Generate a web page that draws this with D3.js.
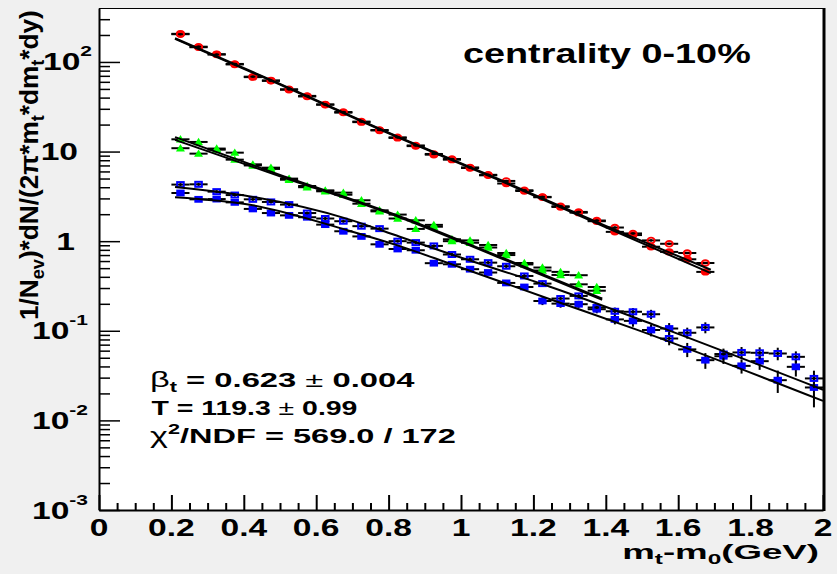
<!DOCTYPE html>
<html><head><meta charset="utf-8">
<script src="https://cdn.jsdelivr.net/npm/d3@7"></script>
<style>body{margin:0;background:#f0f0f0}svg{display:block}</style>
</head><body>
<svg id="c" width="837" height="574"></svg>
<script>
// ---------------- DATA ----------------
const redX = [0.225,0.275,0.325,0.375,0.425,0.475,0.525,0.575,0.625,0.675,0.725,0.775,0.825,0.875,0.925,0.975,1.025,1.075,1.125,1.175,1.225,1.275,1.325,1.375,1.425,1.475,1.525,1.575,1.625,1.675];
const redFilled = [206,146,122,93.8,67.7,62.2,49,41.2,33.3,27.2,21.3,17.2,14.2,11.5,9.23,8.12,6.55,5.43,4.4,3.63,3.09,2.41,2.08,1.67,1.27,1.17,0.867,0.759,0.628,0.454];
const redOpen   = [204,148,121,95,68.5,61.5,49.5,41.8,33.6,27.6,21.6,17.4,14.4,11.7,9.4,8.25,6.65,5.5,4.7,3.7,3.12,2.45,2.12,1.7,1.42,1.22,1.02,0.935,0.738,0.571];

const greenX = [0.225,0.275,0.325,0.375,0.425,0.475,0.525,0.575,0.625,0.675,0.725,0.775,0.825,0.875,0.925,0.975,1.025,1.075,1.125,1.175,1.225,1.275,1.325,1.375];
const greenA = [13.7,12.8,10.8,9.72,7.2,6.61,4.99,4.13,3.69,3.48,2.86,2.21,1.98,1.71,1.52,1.05,1.02,0.907,0.738,0.571,0.508,0.454,0.417,0.308];
const greenB = [10.9,9.48,10.5,8.12,7.0,6.4,4.85,4.0,3.6,3.3,2.62,2.15,1.79,1.37,1.45,1.0,0.96,0.85,0.70,0.55,0.47,0.42,0.33,0.28];

const blueX = [0.225,0.275,0.325,0.375,0.425,0.475,0.525,0.575,0.625,0.675,0.725,0.775,0.825,0.875,0.925,0.975,1.025,1.075,1.125,1.175,1.225,1.275,1.325,1.375,1.425,1.475,1.525,1.575,1.625,1.675,1.725,1.775,1.825,1.875,1.925,1.975];
const blueOpen = [4.28,4.31,3.57,3.27,2.93,2.74,2.56,2.06,1.79,1.67,1.47,1.38,1.00,0.964,0.885,0.71,0.628,0.576,0.525,0.409,0.336,0.229,0.245,0.182,0.165,0.163,0.153,0.082,0.095,0.109,0.055,0.0573,0.0568,0.0558,0.0512,0.0294];
const blueFilled = [3.45,2.93,2.95,2.71,2.29,2.06,1.94,1.85,1.53,1.29,1.13,0.922,0.818,0.792,0.568,0.552,0.487,0.447,0.342,0.308,0.215,0.201,0.198,0.174,0.134,0.129,0.102,0.106,0.062,0.047,0.052,0.0406,0.0458,0.0281,0.0396,0.0233];
const blueOpenErr = [0.04,0.04,0.04,0.04,0.04,0.04,0.04,0.04,0.04,0.04,0.04,0.04,0.04,0.04,0.04,0.04,0.05,0.05,0.06,0.06,0.08,0.08,0.08,0.09,0.10,0.10,0.12,0.16,0.14,0.14,0.15,0.15,0.15,0.16,0.15,0.22];
const blueFilledErr = [0.04,0.04,0.04,0.04,0.04,0.04,0.04,0.04,0.04,0.04,0.04,0.04,0.04,0.04,0.04,0.04,0.06,0.06,0.07,0.07,0.10,0.10,0.09,0.10,0.12,0.14,0.15,0.15,0.18,0.20,0.18,0.18,0.20,0.28,0.22,0.40];
const redGreenErr = 0.03;
const binHalfWidth = 0.025;

// blast-wave fit curves
const redFitX = [0.21,0.5,0.8,1.1,1.4,1.69];
const redFit1 = [181,56,16,4.9,1.43,0.44];
const redFit2 = [184,57,16.3,5.0,1.48,0.48];
const greenFitX = [0.21,0.5,0.83,1.1,1.39];
const greenFit1 = [14.5,5.5,1.9,0.69,0.229];
const greenFit2 = [13.5,5.3,1.85,0.67,0.222];
const blueFit1X = [0.21,0.417,0.693,0.831,0.97,1.246,1.55,2.0];
const blueFit1 = [4.02,3.16,1.74,1.12,0.72,0.31,0.11,0.022];
const blueFit2X = [0.21,0.417,0.693,0.831,0.97,1.246,1.485,2.0];
const blueFit2 = [3.1,2.55,1.3,0.88,0.56,0.225,0.103,0.0165];

const xTicks = [0,0.2,0.4,0.6,0.8,1,1.2,1.4,1.6,1.8,2];
const xTickLabels = ["0","0.2","0.4","0.6","0.8","1","1.2","1.4","1.6","1.8","2"];
const yTicks = [1e-3,1e-2,1e-1,1,10,100];
const yTickBase = ["10","10","10","1","10","10"];
const yTickExp  = ["-3","-2","-1","","","2"];

// ---------------- LAYOUT ----------------
const W=837,H=574,L=99,R=823,T=8,B=510;
const FONT = "'Liberation Sans', Arial, Helvetica, sans-serif";
const svg = d3.select("#c");
svg.append("rect").attr("width",W).attr("height",H).attr("fill","#f0f0f0");
svg.append("rect").attr("x",L).attr("y",T).attr("width",R-L).attr("height",B-T).attr("fill","#fff");

const x = d3.scaleLinear().domain([0,2]).range([L,R]);
const y = d3.scaleLog().domain([1e-3,400]).range([B,T]);

// ---- axes (ticks inward, ROOT style)
const xMinor = d3.range(1,40).map(i=>+(i*0.05).toFixed(2)).filter(v=>Math.abs(v*5-Math.round(v*5))>1e-6);
const yMinor = [];
for (let d=-3; d<=2; d++) for (let m=2;m<=9;m++){ const v=m*Math.pow(10,d); if (v<400) yMinor.push(v); }

const gx1 = svg.append("g").attr("transform",`translate(0,${B})`)
  .call(d3.axisBottom(x).tickValues(xMinor).tickSize(-7).tickSizeOuter(0).tickFormat(""));
gx1.select(".domain").remove();
const gx2 = svg.append("g").attr("transform",`translate(0,${B})`)
  .call(d3.axisBottom(x).tickValues(xTicks).tickSize(-15).tickSizeOuter(0).tickFormat(""));
[gx1,gx2].forEach(g=>g.selectAll("line,path").attr("stroke","#000").attr("stroke-width",2));

const gy1 = svg.append("g").attr("transform",`translate(${L},0)`)
  .call(d3.axisLeft(y).tickValues(yMinor).tickSize(-11).tickSizeOuter(0).tickFormat(""));
gy1.select(".domain").remove();
const gy2 = svg.append("g").attr("transform",`translate(${L},0)`)
  .call(d3.axisLeft(y).tickValues(yTicks).tickSize(-21).tickSizeOuter(0).tickFormat(""));
[gy1,gy2].forEach(g=>g.selectAll("line").attr("stroke","#000").attr("stroke-width",1.5));
gy2.select(".domain").attr("stroke","#000").attr("stroke-width",2);

// frame top / right
svg.append("line").attr("x1",L).attr("x2",R).attr("y1",T+0.5).attr("y2",T+0.5).attr("stroke","#000").attr("stroke-width",1.2);
svg.append("line").attr("x1",R+1).attr("x2",R+1).attr("y1",T).attr("y2",B+1).attr("stroke","#000").attr("stroke-width",3);

// ---- text helper: horizontally widened text (ROOT look)
function wideText(px, py, sx, anchor, build, target){
  const g = svg.append("g");
  const t = g.append("text").attr("font-family",FONT).attr("text-anchor",anchor).attr("fill","#000");
  build(t);
  let s = sx;
  if (target){ const w = t.node().getBBox().width; s = target/w; }
  g.attr("transform",`translate(${px},${py}) scale(${s},1)`);
  return g;
}
const TICKSX = 1.4;
xTicks.forEach((v,i)=>{
  wideText(x(v), 535.5, TICKSX, "middle", t=>t.attr("font-size",24).attr("font-weight","bold").text(xTickLabels[i]));
});
yTicks.forEach((v,i)=>{
  const endX = v<1 ? 88 : (v===1 ? 75 : (v===10 ? 78 : 92));
  wideText(endX, y(v)+8.5, TICKSX, "end", t=>{
    t.attr("font-size",24).attr("font-weight","bold");
    t.append("tspan").text(yTickBase[i]);
    if (yTickExp[i]) t.append("tspan").attr("font-size",15).attr("dy",-14).text(yTickExp[i]);
  });
});

// x title
wideText(819, 559, 1, "end", t=>{
  t.attr("font-size",21).attr("font-weight","bold");
  t.append("tspan").text("m");
  t.append("tspan").attr("font-size",14).attr("dy",5).text("t");
  t.append("tspan").attr("dy",-5).text("-m");
  t.append("tspan").attr("font-size",14).attr("dy",5).text("0");
  t.append("tspan").attr("dy",-5).text("(GeV)");
}, 197);

// y title (rotated)
{
  const g = svg.append("g");
  const t = g.append("text").attr("font-family",FONT).attr("font-size",26).attr("font-weight","bold").attr("text-anchor","start");
  t.append("tspan").text("1/N");
  t.append("tspan").attr("font-size",18).attr("dy",6).text("ev");
  t.append("tspan").attr("dy",-6).text(")*dN/(2\u03c0*m");
  t.append("tspan").attr("font-size",18).attr("dy",6).text("t");
  t.append("tspan").attr("dy",-6).text("*dm");
  t.append("tspan").attr("font-size",18).attr("dy",6).text("t");
  t.append("tspan").attr("dy",-6).text("*dy)");
  const w = t.node().getBBox().width;
  g.attr("transform",`translate(37.5,320) rotate(-90) scale(${310/w},1)`);
}

// annotation texts
wideText(463, 62.5, 1, "start", t=>t.attr("font-size",28).attr("font-weight","bold").text("centrality 0-10%"), 288);
wideText(150, 387, 1, "start", t=>{
  t.attr("font-size",21).attr("font-weight","bold");
  t.append("tspan").attr("font-weight","normal").attr("font-size",22).text("\u03b2");
  t.append("tspan").attr("font-size",14).attr("dy",5).text("t");
  t.append("tspan").attr("dy",-5).text(" = 0.623 ");
  t.append("tspan").attr("font-weight","normal").text("\u00b1");
  t.append("tspan").text(" 0.004");
}, 265);
wideText(151.5, 415, 1, "start", t=>{
  t.attr("font-size",21).attr("font-weight","bold");
  t.append("tspan").text("T = 119.3 ");
  t.append("tspan").attr("font-weight","normal").text("\u00b1");
  t.append("tspan").text(" 0.99");
}, 206);
wideText(150, 443, 1, "start", t=>{
  t.attr("font-size",21).attr("font-weight","bold");
  t.append("tspan").attr("font-weight","normal").attr("font-size",22).text("\u03c7");
  t.append("tspan").attr("font-size",14).attr("dy",-9).text("2");
  t.append("tspan").attr("dy",9).text("/NDF = 569.0 / 172");
}, 306);

// ---- data series
const plot = svg.append("g");
function drawSeries(xs, vs, errs, marker){
  const g = plot.append("g");
  xs.forEach((xv,i)=>{
    const v = vs[i], e = Array.isArray(errs)? errs[i] : errs;
    const cx = x(xv), cy = y(v);
    g.append("line").attr("x1",x(xv-binHalfWidth)).attr("x2",x(xv+binHalfWidth))
      .attr("y1",cy).attr("y2",cy).attr("stroke","#000").attr("stroke-width",2);
    g.append("line").attr("x1",cx).attr("x2",cx).attr("y1",y(v*(1+e))).attr("y2",y(v*(1-e)))
      .attr("stroke","#000").attr("stroke-width",2);
  });
  xs.forEach((xv,i)=> marker(g, x(xv), y(vs[i])));
}
const RED="#ff0000", GREEN="#00ff00", BLUE="#0000ff";
const mFilledCircle = (g,cx,cy)=>g.append("ellipse").attr("cx",cx).attr("cy",cy).attr("rx",4.5).attr("ry",3.7).attr("fill",RED);
const mOpenCircle = (g,cx,cy)=>g.append("ellipse").attr("cx",cx).attr("cy",cy).attr("rx",3.6).attr("ry",2.8).attr("fill","none").attr("stroke",RED).attr("stroke-width",1.9);
const mTriangle = (g,cx,cy)=>g.append("path").attr("d",`M${cx},${cy-4.2}L${cx+4.5},${cy+3.2}L${cx-4.5},${cy+3.2}Z`).attr("fill",GREEN);
const mOpenSquare = (g,cx,cy)=>g.append("rect").attr("x",cx-3.3).attr("y",cy-2.5).attr("width",6.6).attr("height",5).attr("fill","none").attr("stroke",BLUE).attr("stroke-width",2);
const mFilledSquare = (g,cx,cy)=>g.append("rect").attr("x",cx-4.2).attr("y",cy-3.4).attr("width",8.4).attr("height",6.8).attr("fill",BLUE);

drawSeries(redX, redFilled, redGreenErr, mFilledCircle);
drawSeries(redX, redOpen, redGreenErr, mOpenCircle);
drawSeries(greenX, greenB, redGreenErr, mTriangle);
drawSeries(greenX, greenA, redGreenErr, mTriangle);
drawSeries(blueX, blueFilled, blueFilledErr, mFilledSquare);
drawSeries(blueX, blueOpen, blueOpenErr, mOpenSquare);

// ---- fit curves
function drawFit(xs, vs){
  const gen = d3.line().x(d=>x(d[0])).y(d=>y(d[1])).curve(d3.curveMonotoneX);
  svg.append("path").attr("d",gen(xs.map((xv,i)=>[xv,vs[i]])))
    .attr("fill","none").attr("stroke","#000").attr("stroke-width",2);
}
drawFit(redFitX, redFit1);
drawFit(redFitX, redFit2);
drawFit(greenFitX, greenFit1);
drawFit(greenFitX, greenFit2);
drawFit(blueFit1X, blueFit1);
drawFit(blueFit2X, blueFit2);
</script>
</body></html>
